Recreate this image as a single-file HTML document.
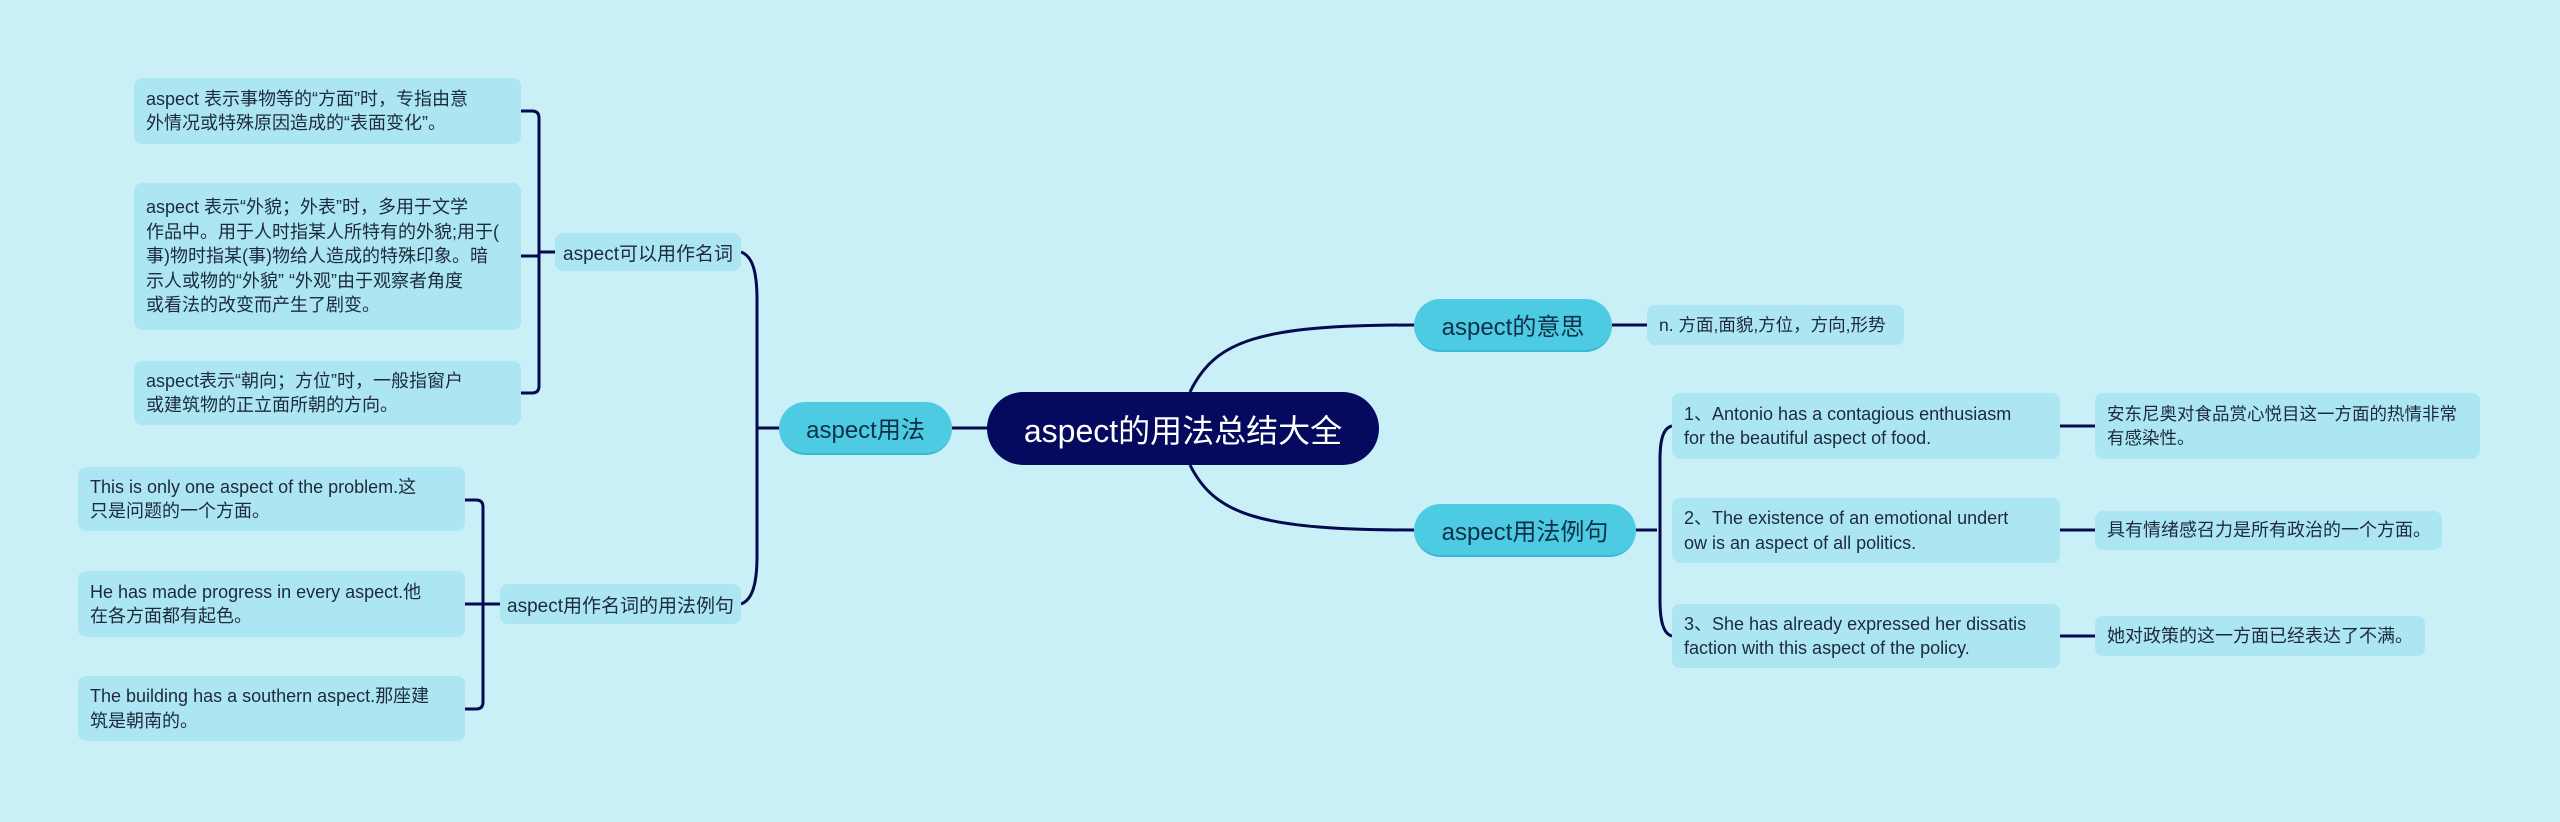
<!DOCTYPE html>
<html><head><meta charset="utf-8"><style>
html,body{margin:0;padding:0;}
body{width:2560px;height:822px;background:#c9f0f7;position:relative;overflow:hidden;font-family:"Liberation Sans","Noto Sans CJK SC",sans-serif;}
.n{position:absolute;box-sizing:border-box;white-space:nowrap;}
.leaf{background:#ade6f3;border-radius:8px;color:#1d2a3a;font-size:18px;line-height:24.5px;padding:0 12px;display:flex;flex-direction:column;justify-content:center;}
.l2{background:#ade6f3;border-radius:8px;color:#1d2a3a;font-size:19px;display:flex;align-items:center;justify-content:center;}
.br{background:#4ccbe3;border-radius:27px;color:#10304a;font-size:24px;display:flex;align-items:center;justify-content:center;border-bottom:2px solid #3ab7d3;}
.root{background:#050a5e;border-radius:37px;color:#fff;font-size:32px;display:flex;align-items:center;justify-content:center;}
svg{position:absolute;left:0;top:0;}
</style></head><body>
<svg width="2560" height="822" fill="none" stroke="#050a4e" stroke-width="3">
<path d="M952 428 H988"/>
<path d="M779 428 H757"/>
<path d="M741 252 C752 256 757 270 757 300 V556 C757 585 752 600 741 604"/>
<path d="M555 252 H539"/>
<path d="M521 111 H532 Q539 111 539 118 V386 Q539 393 532 393 H521"/>
<path d="M521 256 H539"/>
<path d="M500 604 H483"/>
<path d="M465 500 H476 Q483 500 483 507 V702 Q483 709 476 709 H465"/>
<path d="M465 604 H483"/>
<path d="M1190 392 C1215 340 1260 325 1414 325"/>
<path d="M1190 465 C1215 515 1260 530 1414 530"/>
<path d="M1612 325 H1647"/>
<path d="M1636 530 H1657"/>
<path d="M1672 426 C1663 428 1660 440 1660 460 V600 C1660 620 1663 634 1672 636"/>
<path d="M2060 426 H2095"/>
<path d="M2060 530 H2095"/>
<path d="M2060 636 H2095"/>
</svg>
<div class="n root" style="left:987px;top:392px;width:392px;height:73px;">aspect的用法总结大全</div>
<div class="n br" style="left:779px;top:402px;width:173px;height:53px;">aspect用法</div>
<div class="n br" style="left:1414px;top:299px;width:198px;height:53px;">aspect的意思</div>
<div class="n br" style="left:1414px;top:504px;width:222px;height:53px;">aspect用法例句</div>
<div class="n l2" style="left:555px;top:233px;width:186px;height:38px;">aspect可以用作名词</div>
<div class="n l2" style="left:500px;top:584px;width:241px;height:40px;">aspect用作名词的用法例句</div>
<div class="n leaf" style="left:134px;top:78px;width:387px;height:66px;"><div>aspect 表示事物等的“方面”时，专指由意</div><div>外情况或特殊原因造成的“表面变化”。</div></div>
<div class="n leaf" style="left:134px;top:183px;width:387px;height:147px;"><div>aspect 表示“外貌；外表”时，多用于文学</div><div>作品中。用于人时指某人所特有的外貌;用于(</div><div>事)物时指某(事)物给人造成的特殊印象。暗</div><div>示人或物的“外貌” “外观”由于观察者角度</div><div>或看法的改变而产生了剧变。</div></div>
<div class="n leaf" style="left:134px;top:361px;width:387px;height:64px;"><div>aspect表示“朝向；方位”时，一般指窗户</div><div>或建筑物的正立面所朝的方向。</div></div>
<div class="n leaf" style="left:78px;top:467px;width:387px;height:64px;"><div>This is only one aspect of the problem.这</div><div>只是问题的一个方面。</div></div>
<div class="n leaf" style="left:78px;top:571px;width:387px;height:66px;"><div>He has made progress in every aspect.他</div><div>在各方面都有起色。</div></div>
<div class="n leaf" style="left:78px;top:676px;width:387px;height:65px;"><div>The building has a southern aspect.那座建</div><div>筑是朝南的。</div></div>
<div class="n leaf" style="left:1647px;top:305px;width:257px;height:40px;font-size:17.5px;">n. 方面,面貌,方位，方向,形势</div>
<div class="n leaf" style="left:1672px;top:393px;width:388px;height:66px;"><div>1、Antonio has a contagious enthusiasm</div><div>for the beautiful aspect of food.</div></div>
<div class="n leaf" style="left:1672px;top:498px;width:388px;height:65px;"><div>2、The existence of an emotional undert</div><div>ow is an aspect of all politics.</div></div>
<div class="n leaf" style="left:1672px;top:604px;width:388px;height:64px;"><div>3、She has already expressed her dissatis</div><div>faction with this aspect of the policy.</div></div>
<div class="n leaf" style="left:2095px;top:393px;width:385px;height:66px;font-size:17.5px;"><div>安东尼奥对食品赏心悦目这一方面的热情非常</div><div>有感染性。</div></div>
<div class="n leaf" style="left:2095px;top:511px;width:347px;height:39px;">具有情绪感召力是所有政治的一个方面。</div>
<div class="n leaf" style="left:2095px;top:616px;width:330px;height:40px;">她对政策的这一方面已经表达了不满。</div>
</body></html>
